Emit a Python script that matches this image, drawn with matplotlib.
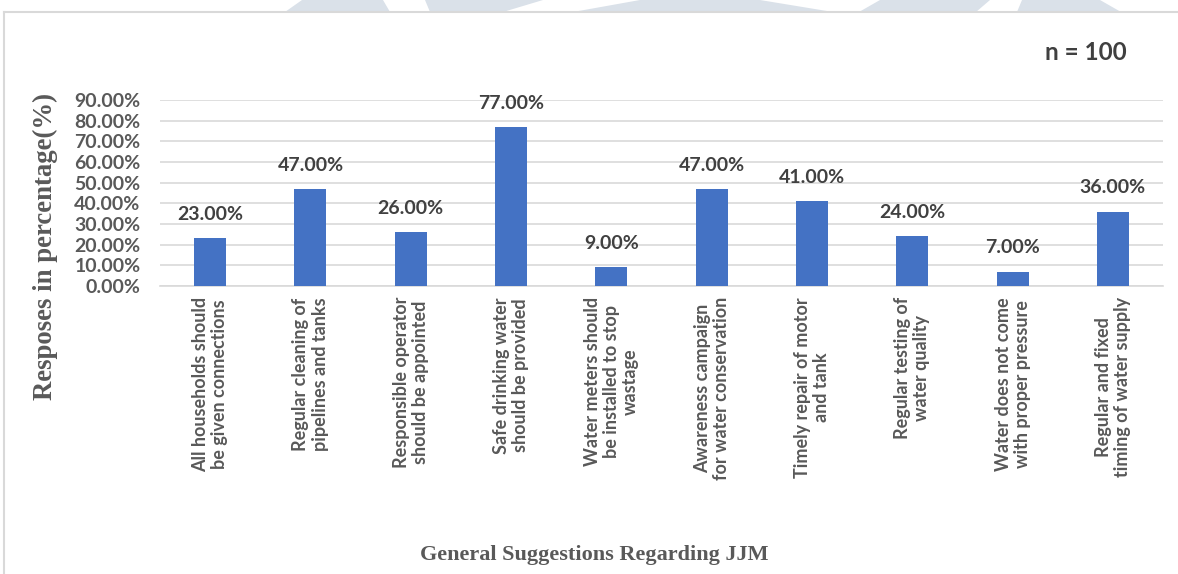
import numpy as np
import matplotlib.pyplot as plt
from matplotlib.patches import Polygon
from matplotlib.lines import Line2D
from matplotlib.ticker import PercentFormatter

# survey results, n = 100
suggestions = [
    "All households should\nbe given connections",
    "Regular cleaning of\npipelines and tanks",
    "Responsible operator\nshould be appointed",
    "Safe drinking water\nshould be provided",
    "Water meters should\nbe installed to stop\nwastage",
    "Awareness campaign\nfor water conservation",
    "Timely repair of motor\nand tank",
    "Regular testing of\nwater quality",
    "Water does not come\nwith proper pressure",
    "Regular and fixed\ntiming of water supply",
]
responses = [23, 47, 26, 77, 9, 47, 41, 24, 7, 36]
yticks = [0, 10, 20, 30, 40, 50, 60, 70, 80, 90]

W, H = 1178, 574
fig = plt.figure(figsize=(W / 100, H / 100), dpi=100)

# faint header shapes behind the chart frame (pixel coords from the top)
band = [
    [(285, 12), (302, 0), (383, 0), (390, 12)],
    [(430, 12), (425, 0), (543, 0), (503, 12)],
    [(573, 12), (640, 0), (760, 0), (833, 12)],
    [(859, 12), (880, 0), (990, 0), (976, 12)],
    [(1017, 12), (1022, 0), (1100, 0), (1121, 12)],
]
for pts in band:
    fig.patches.append(Polygon([(x / W, 1 - y / H) for x, y in pts],
                               closed=True, transform=fig.transFigure,
                               facecolor="#DAE1E9", edgecolor="none"))

# chart frame
fig.lines.append(Line2D([4 / W, 1], [1 - 12 / H, 1 - 12 / H],
                        transform=fig.transFigure, color="#D9D9D9", lw=1.5))
fig.lines.append(Line2D([4 / W, 4 / W], [0, 1 - 12 / H],
                        transform=fig.transFigure, color="#D9D9D9", lw=1.5))

ax = fig.add_axes([160 / W, 1 - 286 / H, (1163 - 160) / W, (286 - 100) / H])

x = np.arange(len(responses))
bars = ax.bar(x, responses, width=0.32, color="#4472C4", zorder=3)

ax.set_xlim(-0.5, len(responses) - 0.5)
ax.set_ylim(0, 90)
ax.set_yticks(yticks)
ax.yaxis.set_major_formatter(PercentFormatter(decimals=2))
ax.grid(axis="y", color="#D9D9D9", lw=1.2, zorder=0)
for s in ["top", "right", "left"]:
    ax.spines[s].set_visible(False)
ax.spines["bottom"].set_color("#D9D9D9")
ax.spines["bottom"].set_linewidth(1.2)
ax.tick_params(length=0)

for lab in ax.get_yticklabels():
    lab.set_fontfamily("Lato")
    lab.set_fontweight("bold")
    lab.set_fontsize(14)
    lab.set_color("#595959")
ax.tick_params(axis="y", pad=14)

ax.set_xticks(x)
ax.set_xticklabels(suggestions, rotation=90, ha="center", va="top",
                   multialignment="center", family="Lato", fontweight="bold",
                   fontsize=13, color="#595959", linespacing=1.15)
ax.tick_params(axis="x", pad=8)

for b, v in zip(bars, responses):
    ax.annotate(f"{v:.2f}%", (b.get_x() + b.get_width() / 2, v),
                xytext=(0, 11), textcoords="offset points", ha="center",
                va="bottom", family="Lato", fontweight="bold", fontsize=14,
                color="#404040")

fig.text(1127 / W, 1 - 52 / H, "n = 100", ha="right", va="center",
         family="Lato", fontweight="bold", fontsize=17.5, color="#404040")

fig.text(45 / W, 1 - 246 / H, "Resposes in percentage(%)", rotation=90,
         ha="center", va="center", family="Liberation Serif",
         fontweight="bold", fontsize=19.3, color="#595959")
fig.text(594 / W, 1 - 555 / H, "General Suggestions Regarding JJM",
         ha="center", va="center", family="Liberation Serif",
         fontweight="bold", fontsize=16, color="#595959")

fig.savefig("out.png", dpi=100)
